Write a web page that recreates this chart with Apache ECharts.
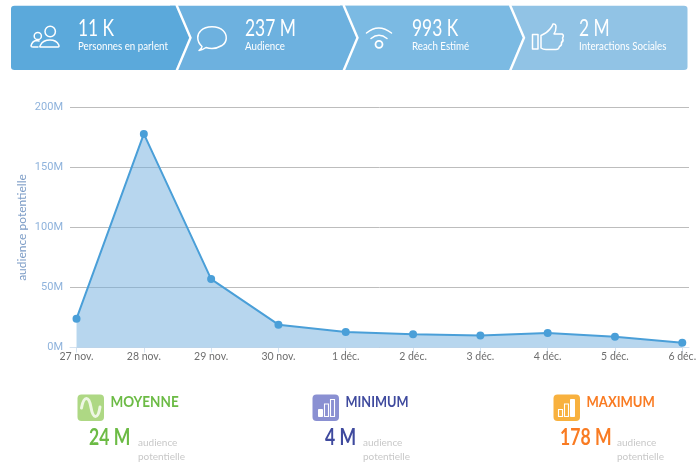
<!DOCTYPE html>
<html><head><meta charset="utf-8">
<style>html,body{margin:0;padding:0;background:#fff}#c{width:700px;height:473px}</style>
<script src="https://cdn.jsdelivr.net/npm/echarts@6/dist/echarts.min.js"></script>
</head><body><div id="c"></div>
<script>
const categories = ['27 nov.','28 nov.','29 nov.','30 nov.','1 déc.','2 déc.','3 déc.','4 déc.','5 déc.','6 déc.'];
const audience = [24,178,57,19,13,11,10,12,9,4];
const yTicks = [0,50,100,150,200];
const headerValues = ['11 K','237 M','993 K','2 M'];
const headerLabels = ['Personnes en parlent','Audience','Reach Estimé','Interactions Sociales'];
const statTitles = ['MOYENNE','MINIMUM','MAXIMUM'];
const statValues = ['24 M','4 M','178 M'];
const statCaption = ['audience','potentielle'];
const FONT = 'Lato, "Noto Sans", sans-serif';
const NARROW = 'Roboto, Lato, sans-serif';

let shapeCount=0;
function pathType(d){
  const name='svgp'+(shapeCount++);
  echarts.graphic.registerShape(name,echarts.graphic.extendPath(d,{}));
  return name;
}
function txt(x,y,text,size,fill,weight,sx){
  return {type:'text',x,y,scaleX:sx||1,silent:true,style:{text,fontFamily:FONT,fontSize:size,fontWeight:weight||'normal',fill,textVerticalAlign:'middle',textAlign:'left'}};
}
function fillP(d,fill){return {type:pathType(d),style:{fill,stroke:null},silent:true};}
function lineP(d,stroke,w){return {type:pathType(d),style:{fill:'none',stroke,lineWidth:w||1.5,lineCap:'round',lineJoin:'round'},silent:true};}
function rr(x,y,w,h,r,fill){return {type:'rect',shape:{x,y,width:w,height:h,r},style:{fill},silent:true};}

const g = [];
// banner segments, drawn right to left so each chevron overlaps the next
g.push(fillP('M340 5.7 L684 5.7 Q687.5 5.7 687.5 9 L687.5 67 Q687.5 70 684 70 L340 70 Z','#91C3E5'));
g.push(fillP('M340 5.7 L509 5.7 L523 37.8 L509 70 L340 70 Z','#7BBAE3'));
g.push(fillP('M170 5.7 L342.5 5.7 L356.5 37.8 L342.5 70 L170 70 Z','#6DB1DF'));
g.push(fillP('M14.5 5.7 L175.5 5.7 L189.5 37.8 L175.5 70 L14.5 70 Q11 70 11 67 L11 9 Q11 5.7 14.5 5.7 Z','#5BA9DB'));
[176.5,343.5,510].forEach(x=>g.push({type:pathType(`M${x} 5 L${x+14} 37.8 L${x} 71`),style:{fill:'none',stroke:'#fff',lineWidth:2.4},silent:true}));

const hx=[78,245,412,579];
hx.forEach((x,i)=>{
  g.push(txt(x,28.5,headerValues[i],23.5,'#fff','normal',0.74));
  g.push(txt(x,46,headerLabels[i],11,'#fff','normal',0.885));
});
// people
g.push(lineP('M45 31.5 a5.2 5.2 0 1 0 10.4 0 a5.2 5.2 0 1 0 -10.4 0 Z','#fff'));
g.push(lineP('M34.2 36 a3.6 3.6 0 1 0 7.2 0 a3.6 3.6 0 1 0 -7.2 0 Z','#fff'));
g.push(lineP('M40 47 L58 47 Q59.5 47 58.8 45 Q56.5 40 50 40 Q43 40 40.5 45 Q39.5 47 40 47 Z','#fff'));
g.push(lineP('M39 41 Q37.5 40.5 36.5 40.5 Q32 41 31 46 Q31 47 33 47 L38 47','#fff'));
// speech bubble
g.push(lineP('M202 46.5 C196 41 197 34 201 30.5 C206 25.5 218 25.5 223 30.5 C228 35.5 227 42 222 45.5 C217 48.5 211 49 206 47.5 C204 49 202 50 199 50.5 C201 49 202 47.5 202 46.5 Z','#fff'));
// wifi
g.push(lineP('M366.5 33 Q378.5 23 391.5 33','#fff'));
g.push(lineP('M371 38.5 Q379 32 387 38.5','#fff'));
g.push(lineP('M375.5 44.3 a3.5 3.5 0 1 0 7 0 a3.5 3.5 0 1 0 -7 0 Z','#fff',1.8));
// thumb
g.push(lineP('M532.5 34.5 L538 34.5 L538 49 L532.5 49 Z','#fff'));
g.push(lineP('M541 35.5 Q547 33 550 29 Q552.5 26 553 24 Q556 23.5 556 27 Q556 31 554 34 L562 34 Q564.5 35.5 562.5 38 Q564 41 561.5 42.5 Q562 45.5 559.5 46.5 Q559 49.5 556 49.5 L546 49.5 Q543 49.5 541 48 Z','#fff'));

// bottom statistics
const statColors=['#6CBB45','#3F4A9E','#F97B22'];
const iconColors=['#AED884','#8A90D2','#F8B13E'];
const iconX=[77.5,312.5,553.5], titleX=[110.5,345.5,586.5], valueX=[89,325,560], capX=[138,363,617];
const titleScale=[0.9,0.85,0.87];
statTitles.forEach((t,i)=>{
  g.push(rr(iconX[i],394.5,26.5,26.5,4,iconColors[i]));
  g.push(txt(titleX[i],402,t,15,statColors[i],'bold',titleScale[i]));
  g.push(txt(valueX[i],438,statValues[i],22,statColors[i],'bold',0.8));
  g.push(txt(capX[i],442.5,statCaption[0],10,'#C8C8C8'));
  g.push(txt(capX[i],456.5,statCaption[1],10,'#C8C8C8'));
});
// sine icon
g.push(lineP('M81.5 408 C84 395 89 396 91 407.5 C93 419 98 420 100 407','#EEF7E4',3));
// bar icons
[[0,318.5],[2,558.5]].forEach(([solid,x0])=>{
  [[0,7],[6,12.5],[12,17]].forEach((b,j)=>{
    g.push({type:'rect',shape:{x:x0+b[0],y:416.5-b[1],width:4,height:b[1]},
      style:j===solid?{fill:'#fff',stroke:'#fff',lineWidth:1}:{fill:'none',stroke:'#fff',lineWidth:1.1},silent:true});
  });
});

const chart = echarts.init(document.getElementById('c'),null,{renderer:'canvas'});
chart.setOption({
  animation:false,
  backgroundColor:'#fff',
  grid:{left:70,right:11,top:107.5,height:240,outerBoundsMode:'none'},
  xAxis:{
    type:'value',min:-0.097,max:9.1,
    splitLine:{show:false},
    axisLine:{show:true,onZero:false,lineStyle:{color:'#D5E2EF',width:1}},
    axisTick:{show:true,customValues:categories.map((c,i)=>i),length:5,lineStyle:{color:'#D5E2EF'}},
    axisLabel:{customValues:categories.map((c,i)=>i),formatter:v=>categories[Math.round(v)],color:'#6E6E6E',fontFamily:FONT,fontSize:10.5,margin:4}
  },
  yAxis:{
    type:'value',min:0,max:200,interval:50,
    name:'audience potentielle',nameLocation:'middle',nameGap:42,nameMoveOverlap:false,
    nameTextStyle:{color:'#7C9CC6',fontFamily:FONT,fontSize:12},
    axisLine:{show:false},axisTick:{show:false},
    splitLine:{lineStyle:{color:'#BDBDBD',width:1}},
    axisLabel:{formatter:v=>v+'M',color:'#8FB3DC',fontFamily:NARROW,fontSize:11,margin:7}
  },
  series:[{
    type:'line',
    data:audience.map((v,i)=>[i,v]),
    symbol:'circle',symbolSize:8,
    itemStyle:{color:'#4A9FD8'},
    lineStyle:{color:'#4A9FD8',width:2},
    areaStyle:{color:'#6FAEDD',opacity:0.5},
    z:3
  }],
  graphic:{elements:g}
});
</script></body></html>
